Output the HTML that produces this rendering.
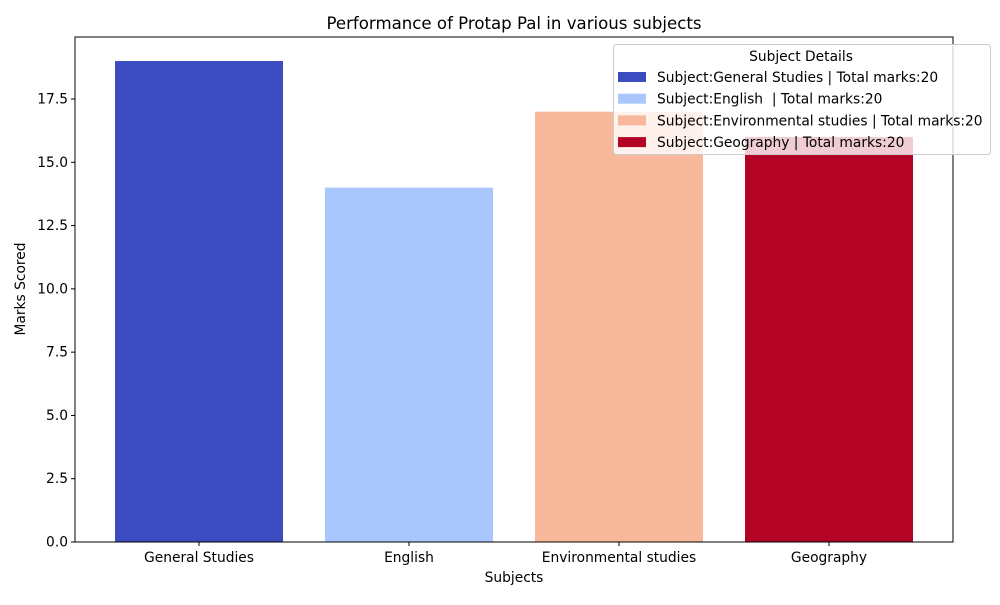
<!DOCTYPE html>
<html><head><meta charset="utf-8"><style>
body{margin:0;background:#fff;font-family:"Liberation Sans","DejaVu Sans",sans-serif;}
text{white-space:pre;}
</style></head><body>
<svg id="chart" width="1000" height="600" xmlns="http://www.w3.org/2000/svg" font-family="DejaVu Sans, Liberation Sans, sans-serif" xml:space="preserve">
<rect width="1000" height="600" fill="#fff"/>
<text x="514" y="29" text-anchor="middle" font-size="16.6">Performance of Protap Pal in various subjects</text>
<g id="bars"></g>
<g id="yticks"></g>
<g id="xticks"></g>
<rect x="75" y="37" width="878" height="505" fill="none" stroke="#000" stroke-width="1"/>
<text x="514" y="582" text-anchor="middle" font-size="13.8">Subjects</text>
<text transform="translate(25,289) rotate(-90)" text-anchor="middle" font-size="13.8">Marks Scored</text>
<g id="legend">
<rect x="613.5" y="44.5" width="377" height="110" rx="3" fill="rgba(255,255,255,0.8)" stroke="#ccc"/>
<text x="801" y="61" text-anchor="middle" font-size="13.8">Subject Details</text>
</g>
</svg>
<script>
const categories=["General Studies","English","Environmental studies","Geography"];
const marks=[19,14,17,16];
const legendLabels=["Subject:General Studies | Total marks:20","Subject:English  | Total marks:20","Subject:Environmental studies | Total marks:20","Subject:Geography | Total marks:20"];
const yTickValues=[0,2.5,5,7.5,10,12.5,15,17.5];
const colors=["#3b4cc0","#aac7fd","#f7b89c","#b40426"];
const NS="http://www.w3.org/2000/svg";
const L=75,R=953,T=37,B=542,yMax=19.95,x0=199,step=210;
function xs(v){return x0+v*step;}
function ys(v){return B-v/yMax*(B-T);}
function mk(tag,attrs,parent){const e=document.createElementNS(NS,tag);for(const k in attrs)e.setAttribute(k,attrs[k]);parent.appendChild(e);return e;}
const gb=document.getElementById('bars'),gx=document.getElementById('xticks'),gy=document.getElementById('yticks'),gl=document.getElementById('legend');
const bw=(xs(0.4)-xs(-0.4));
marks.forEach((m,i)=>{
  const r=mk('rect',{x:xs(i-0.4),y:ys(m),width:bw,height:ys(0)-ys(m),fill:colors[i]},gb);
  
  
  mk('line',{x1:xs(i),x2:xs(i),y1:B,y2:B+4,stroke:'#000'},gx);
  const t=mk('text',{x:xs(i),y:B+20,'text-anchor':'middle','font-size':'13.8'},gx);t.textContent=categories[i];
  
  
  const ly=77+i*21.7;
  const p=mk('rect',{x:618,y:ly-5,width:28,height:10,fill:colors[i]},gl);
  
  
  const lt=mk('text',{x:657,y:ly+5,'font-size':'13.8'},gl);lt.textContent=legendLabels[i];
  
  
});
yTickValues.forEach(v=>{
  mk('line',{x1:L-4,x2:L,y1:ys(v),y2:ys(v),stroke:'#000'},gy);
  const t=mk('text',{x:L-7,y:ys(v)+4.5,'text-anchor':'end','font-size':'13.8'},gy);t.textContent=v.toFixed(1);
  
  
});
</script>
</body></html>
